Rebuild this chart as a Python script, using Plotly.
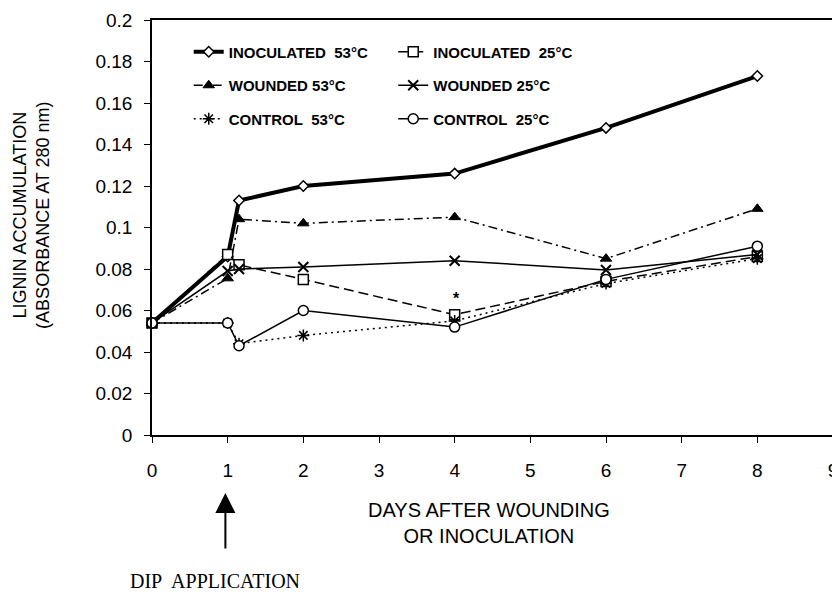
import plotly.graph_objects as go

# ---- data ----
days = [0, 1, 1.15, 2, 4, 6, 8]
inoculated_53 = [0.054, 0.086, 0.113, 0.120, 0.126, 0.148, 0.173]
inoculated_25 = [0.054, 0.087, 0.082, 0.075, 0.058, 0.074, 0.086]
wounded_53 = [0.054, 0.0755, 0.104, 0.102, 0.105, 0.085, 0.109]
wounded_25 = [0.054, 0.079, 0.080, 0.081, 0.084, 0.0795, 0.087]
control_53 = [0.054, 0.054, 0.044, 0.048, 0.055, 0.073, 0.085]
control_25 = [0.054, 0.054, 0.043, 0.060, 0.052, 0.075, 0.091]

y_tick_vals = [0, 0.02, 0.04, 0.06, 0.08, 0.1, 0.12, 0.14, 0.16, 0.18, 0.2]
y_tick_text = ["0", "0.02", "0.04", "0.06", "0.08", "0.1", "0.12", "0.14", "0.16", "0.18", "0.2"]
x_tick_vals = [0, 1, 2, 3, 4, 5, 6, 7, 8, 9]

NB = "\u00a0"
series = [
    ("INOCULATED" + NB + " 53°C", inoculated_53, dict(width=4, dash="solid"),
     dict(symbol="diamond", size=8, color="white", line=dict(color="black", width=1.5)), "legend"),
    ("INOCULATED" + NB + " 25°C", inoculated_25, dict(width=1.5, dash="10px,5px"),
     dict(symbol="square", size=10, color="white", line=dict(color="black", width=1.5)), "legend2"),
    ("WOUNDED 53°C", wounded_53, dict(width=1.5, dash="9px,4px,2px,4px"),
     dict(symbol="triangle-up", size=10, color="black", line=dict(color="black", width=1)), "legend"),
    ("WOUNDED 25°C", wounded_25, dict(width=1.5, dash="solid"),
     dict(symbol="x-thin", size=10, color="black", line=dict(color="black", width=2)), "legend2"),
    ("CONTROL" + NB + " 53°C", control_53, dict(width=1.5, dash="2px,4px"),
     dict(symbol="asterisk", size=10, color="black", line=dict(color="black", width=1.5)), "legend"),
    ("CONTROL" + NB + " 25°C", control_25, dict(width=1.5, dash="solid"),
     dict(symbol="circle", size=10, color="white", line=dict(color="black", width=1.5)), "legend2"),
]

fig = go.Figure()
for i, (name, vals, line, marker, leg) in enumerate(series):
    fig.add_trace(go.Scatter(
        x=days, y=vals, name=name, mode="lines+markers",
        line=dict(color="black", **line), marker=marker,
        legend=leg, legendgroup=f"g{i}", cliponaxis=False,
    ))

legend_common = dict(
    orientation="v", xanchor="left", yanchor="top",
    bgcolor="rgba(0,0,0,0)", borderwidth=0, tracegroupgap=11,
    font=dict(family="Arial, Liberation Sans, sans-serif", size=15, color="black", weight="bold"),
    itemwidth=30,
)

# The page body adds an 8px offset, so the figure is 8px smaller on each side
# and the margins are shifted so that the plot area sits at page x 152-838, y 20-435.
fig.update_layout(
    width=832, height=586,
    margin=dict(l=144, r=2, t=12, b=159),
    paper_bgcolor="white", plot_bgcolor="white",
    showlegend=True,
    legend=dict(x=(189 - 152) / 686, y=(435 - 35.5) / 415, **legend_common),
    legend2=dict(x=(395 - 152) / 686, y=(435 - 35.5) / 415, **legend_common),
    font=dict(family="Arial, Liberation Sans, sans-serif", color="black"),
    xaxis=dict(
        range=[0, 9], tickvals=x_tick_vals, showgrid=False, zeroline=False,
        showline=True, linecolor="black", linewidth=1.5, mirror=True,
        ticks="outside", ticklen=6, tickwidth=1.2, tickcolor="black",
        tickfont=dict(size=19), ticklabelstandoff=11, ticklabeloverflow="allow",
    ),
    yaxis=dict(
        range=[0, 0.2], tickvals=y_tick_vals, ticktext=y_tick_text,
        showgrid=False, zeroline=False,
        showline=True, linecolor="black", linewidth=1.5, mirror=True,
        ticks="outside", ticklen=6, tickwidth=1.2, tickcolor="black",
        tickfont=dict(size=19), ticklabelstandoff=8,
    ),
)

# axis titles
fig.add_annotation(
    text="LIGNIN ACCUMULATION<br>(ABSORBANCE AT 280 nm)", textangle=-90,
    xref="paper", yref="paper", x=(31 - 152) / 686, y=(435 - 215) / 415,
    xanchor="center", yanchor="middle", showarrow=False,
    font=dict(size=18, family="Arial, Liberation Sans, sans-serif"),
)
fig.add_annotation(
    text="DAYS AFTER WOUNDING<br>OR INOCULATION",
    xref="paper", yref="paper", x=(491 - 152) / 686, y=(435 - 523) / 415,
    xanchor="center", yanchor="middle", showarrow=False,
    font=dict(size=20, family="Arial, Liberation Sans, sans-serif"),
)
# significance marker
fig.add_annotation(
    text="*", x=4.03, y=0.066, xref="x", yref="y", showarrow=False,
    font=dict(size=16, family="Arial, Liberation Sans, sans-serif", weight="bold"),
)
# dip application arrow and label
fig.add_annotation(
    text="", x=0.97, xref="x", yref="paper", y=(435 - 493) / 415,
    showarrow=True, ax=0, ay=57, arrowhead=2, arrowwidth=2, arrowsize=2,
    arrowcolor="black", standoff=0,
)
fig.add_annotation(
    text="DIP" + NB + " APPLICATION", xref="paper", yref="paper",
    x=(215 - 152) / 686, y=(435 - 581) / 415, xanchor="center", yanchor="middle",
    showarrow=False,
    font=dict(size=20, family="Times New Roman, Liberation Serif, serif"),
)

fig.write_html("out.html")
